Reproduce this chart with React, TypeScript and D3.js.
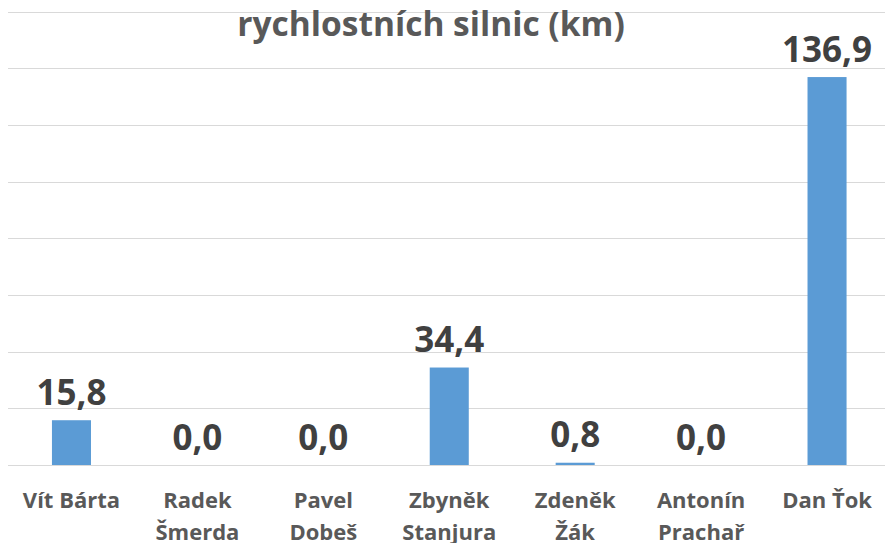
import React from "react";
import * as d3 from "d3";

const categories: string[][] = [
  ["Vít Bárta"],
  ["Radek", "Šmerda"],
  ["Pavel", "Dobeš"],
  ["Zbyněk", "Stanjura"],
  ["Zdeněk", "Žák"],
  ["Antonín", "Prachař"],
  ["Dan Ťok"],
];
const values: number[] = [15.8, 0.0, 0.0, 34.4, 0.8, 0.0, 136.9];
const gridTicks: number[] = [0, 20, 40, 60, 80, 100, 120, 140, 160];
const title = "rychlostních silnic (km)";

const W = 885;
const H = 543;
const FONT = "'Open Sans', 'Noto Sans', sans-serif";

export default function App() {
  const x = d3
    .scaleBand<number>()
    .domain(d3.range(values.length))
    .range([8.5, 890])
    .paddingInner(0.69)
    .paddingOuter(0.345);
  const y = d3.scaleLinear().domain([0, 160]).range([465, 11.6]);
  const fmt = (v: number) => d3.format(".1f")(v).replace(".", ",");

  return (
    <svg
      width={W}
      height={H}
      style={{ position: "absolute", left: 0, top: 0, background: "#fff" }}
    >
      {gridTicks.map((t) => (
        <line
          key={t}
          x1={8}
          x2={890}
          y1={Math.round(y(t)) + 0.5}
          y2={Math.round(y(t)) + 0.5}
          stroke="#d9d9d9"
          strokeWidth={1}
        />
      ))}
      <text
        x={431}
        y={36}
        textAnchor="middle"
        fontFamily={FONT}
        fontWeight={700}
        fontSize={33.5}
        fill="#595959"
      >
        {title}
      </text>
      {values.map((v, i) => {
        const bx = x(i)!;
        const cx = bx + x.bandwidth() / 2;
        return (
          <g key={i}>
            <rect
              x={bx}
              y={y(v)}
              width={x.bandwidth()}
              height={465 - y(v)}
              fill="#5b9bd5"
            />
            <text
              x={cx}
              y={y(v) - 15.5}
              textAnchor="middle"
              fontFamily={FONT}
              fontWeight={700}
              fontSize={35}
              fill="#404040"
            >
              {fmt(v)}
            </text>
            {categories[i].map((line, j) => (
              <text
                key={j}
                x={cx}
                y={507.5 + j * 32}
                textAnchor="middle"
                fontFamily={FONT}
                fontWeight={700}
                fontSize={22}
                fill="#595959"
              >
                {line}
              </text>
            ))}
          </g>
        );
      })}
    </svg>
  );
}
